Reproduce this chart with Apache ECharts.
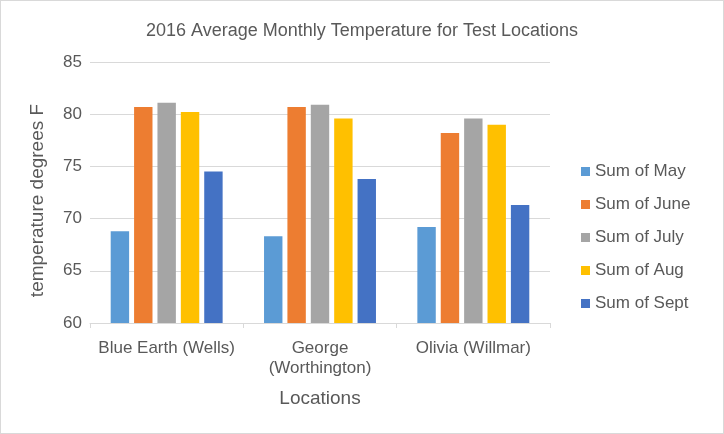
<!DOCTYPE html>
<html>
<head>
<meta charset="utf-8">
<script src="https://cdn.jsdelivr.net/npm/echarts@6/dist/echarts.min.js"></script>
<style>
  html, body { margin: 0; padding: 0; background: #fff; }
  #chart { width: 722px; height: 432px; border: 1px solid #d9d9d9; }
</style>
</head>
<body>
<div id="chart"></div>
<script>
const locations = ["Blue Earth (Wells)", "George\n(Worthington)", "Olivia (Willmar)"];
const seriesNames = ["Sum of May", "Sum of June", "Sum of July", "Sum of Aug", "Sum of Sept"];
const mayTemps = [68.8, 68.3, 69.2];
const juneTemps = [80.7, 80.7, 78.2];
const julyTemps = [81.1, 80.9, 79.6];
const augTemps = [80.2, 79.6, 79.0];
const septTemps = [74.5, 73.8, 71.3];
const colors = ["#5b9bd5", "#ed7d31", "#a5a5a5", "#ffc000", "#4472c4"];

const chart = echarts.init(document.getElementById("chart"));
const textColor = "#595959";
const font = "Liberation Sans, Arial, sans-serif";

const allValues = [mayTemps, juneTemps, julyTemps, augTemps, septTemps];

const option = {
  animation: false,
  title: {
    text: "2016 Average Monthly Temperature for Test Locations",
    left: "center",
    top: 16,
    textStyle: { color: textColor, fontSize: 18, fontWeight: "normal", fontFamily: font }
  },
  legend: {
    orient: "vertical",
    left: 575,
    top: 157,
    itemWidth: 9,
    itemHeight: 9,
    itemGap: 16,
    icon: "rect",
    textStyle: { color: textColor, fontSize: 17, fontFamily: font },
    data: seriesNames
  },
  grid: { left: 89, right: 173, top: 61, bottom: 110 },
  xAxis: {
    type: "category",
    data: locations,
    name: "Locations",
    nameLocation: "middle",
    nameGap: 66,
    nameTextStyle: { color: textColor, fontSize: 19, fontFamily: font },
    axisLine: { lineStyle: { color: "#d9d9d9" } },
    axisTick: { show: true, length: 5, lineStyle: { color: "#d9d9d9" } },
    axisLabel: { color: textColor, fontSize: 17, fontFamily: font, margin: 15, lineHeight: 20, interval: 0 }
  },
  yAxis: {
    type: "value",
    min: 60,
    max: 85,
    interval: 5,
    name: "temperature degrees F",
    nameLocation: "middle",
    nameGap: 43,
    nameTextStyle: { color: textColor, fontSize: 19, fontFamily: font, padding: [0, 16, 0, 0] },
    axisLine: { show: false },
    axisTick: { show: false },
    axisLabel: { color: textColor, fontSize: 17, fontFamily: font, margin: 8 },
    splitLine: { lineStyle: { color: "#d9d9d9" } }
  },
  series: seriesNames.map((name, i) => ({
    name: name,
    type: "bar",
    data: allValues[i],
    itemStyle: { color: colors[i] },
    barGap: "27%",
    barCategoryGap: "27%"
  }))
};

chart.setOption(option);
</script>
</body>
</html>
